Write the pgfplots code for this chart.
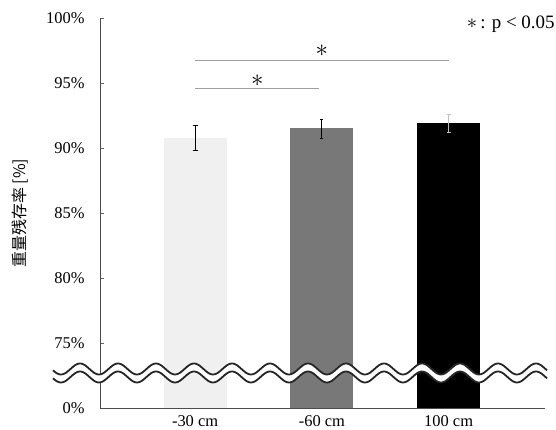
\documentclass[border=0pt]{standalone}
\usepackage{pgfplots}
\pgfplotsset{compat=1.18}
\usepackage{fontspec}
\setmainfont{Liberation Serif}
\newfontfamily\jp{Noto Sans CJK JP}
\begin{document}
\begin{tikzpicture}
\path[use as bounding box] (0,0) rectangle (556bp,430bp);
\begin{axis}[
 at={(100bp,22bp)}, anchor=south west,
 width=445bp, height=390bp, scale only axis,
 xmin=-0.75, xmax=2.76, ymin=70, ymax=100,
 axis x line*=bottom, axis y line*=left,
 axis line style={-, draw=black!70, line width=0.8bp},
 xtick={0,1,2}, xticklabels={-30 cm,-60 cm,100 cm},
 xtick style={draw=none},
 ytick={70,75,80,85,90,95,100},
 yticklabels={0\%,75\%,80\%,85\%,90\%,95\%,100\%},
 tick align=inside, major tick length=4bp,
 ytick style={draw=black!60, line width=0.6bp},
 yticklabel style={xshift=-12bp, font=\fontsize{16.5}{16.5}\selectfont},
 xticklabel style={yshift=0bp, font=\fontsize{16.5}{16.5}\selectfont},
 ylabel={\jp 重量残存率 [\%]},
 ylabel style={at={(axis description cs:-0.18,0.5)}, anchor=center, font=\fontsize{16}{16}\selectfont},
 clip=false,
 ybar, bar width=63bp, bar shift=0pt,
 /pgf/number format/assume math mode=true,
]
\addplot[fill=gray!12, draw=none, error bars/.cd, y dir=both, y explicit, error mark=-, error bar style={black, line width=0.8bp}, error mark options={rotate=90, mark size=2.5bp}] coordinates {(0,90.8) +- (0,0.95)};
\addplot[fill=black!53, draw=none, error bars/.cd, y dir=both, y explicit, error mark=-, error bar style={black, line width=1bp}, error mark options={rotate=90, mark size=1.5bp}] coordinates {(1,91.5) +- (0,0.72)};
\addplot[fill=black, draw=none, error bars/.cd, y dir=both, y explicit, error mark=-, error bar style={gray!50, line width=0.6bp}, error mark options={rotate=90, mark size=2bp}] coordinates {(2,91.9) +- (0,0.7)};
\draw[gray!75, line width=0.8bp] (axis cs:0,96.7) -- (axis cs:2,96.7);
\draw[gray!75, line width=0.8bp] (axis cs:0,94.55) -- (axis cs:0.98,94.55);
\node at (axis cs:1,97.45) {\fontsize{23}{23}\selectfont$\ast$};
\node at (axis cs:0.49,95.2) {\fontsize{23}{23}\selectfont$\ast$};
\node[anchor=base east, inner sep=0pt] at (axis description cs:1.022,0.972) {\fontsize{19}{19}\selectfont{\fontsize{22}{22}\selectfont$\ast$}\,: p < 0.05};
\end{axis}
\begin{scope}[x=1bp,y=1bp]
\draw[white, line width=7bp, domain=53:547, samples=300, smooth] plot (\x, {57+5.5*cos((\x-308)/38*360)});
\draw[black!85, line width=1.8bp, domain=53:547, samples=300, smooth] plot (\x, {61+5.5*cos((\x-308)/38*360)});
\draw[black!85, line width=1.8bp, domain=53:547, samples=300, smooth] plot (\x, {53+5.5*cos((\x-308)/38*360)});
\end{scope}
\end{tikzpicture}
\end{document}
